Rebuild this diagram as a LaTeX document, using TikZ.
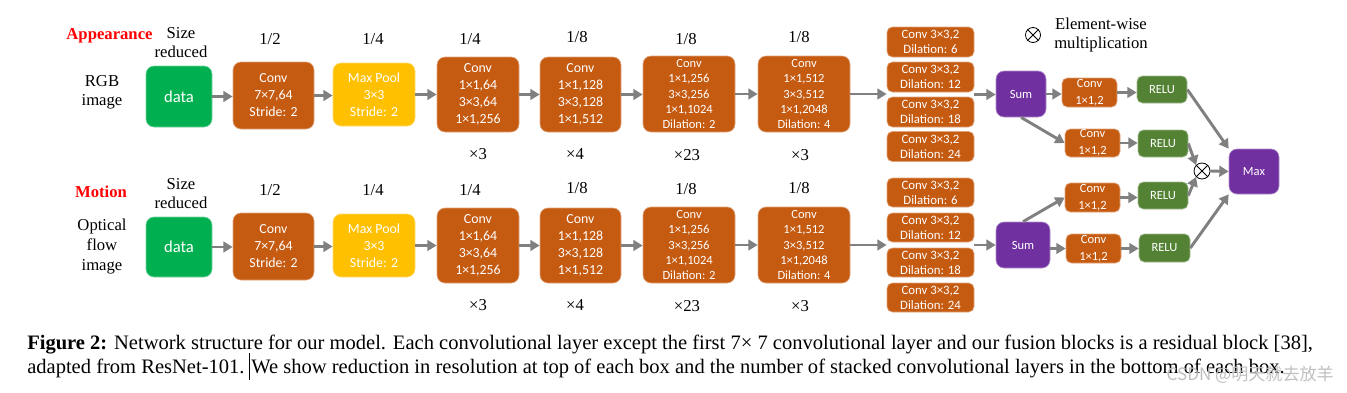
\documentclass[tikz,border=0pt]{standalone}
\usepackage{fontspec}
\setmainfont{Liberation Serif}
\newfontfamily\boxfont{Carlito}
\newfontfamily\cjkfont{Noto Sans CJK SC}
\usetikzlibrary{arrows.meta,calc}
\definecolor{convc}{HTML}{C55A11}
\definecolor{poolc}{HTML}{FFC000}
\definecolor{datac}{HTML}{00B050}
\definecolor{sumc}{HTML}{7030A0}
\definecolor{reluc}{HTML}{548235}
\definecolor{arrc}{HTML}{808080}
\definecolor{redlab}{HTML}{FF0000}
\begin{document}
\begin{tikzpicture}[x=0.75pt,y=-0.75pt,
  b/.style n args={3}{fill=#1, draw=#1!55!white, line width=0.5pt,
     minimum width=#2*0.75pt, minimum height=#3*0.75pt, inner sep=0pt,
     align=center, text=white, rounded corners=6pt},
  sm/.style={rounded corners=4pt},
  fbig/.style={font=\boxfont\fontsize{10.4}{12.75}\selectfont},
  fmid/.style={font=\boxfont\fontsize{9.4}{11.6}\selectfont},
  fdil/.style={font=\boxfont\fontsize{9.6}{11.25}\selectfont},
  fsm/.style={font=\boxfont\fontsize{9.4}{12.5}\selectfont},
  fdata/.style={font=\boxfont\fontsize{12.5}{14}\selectfont},
  lab/.style={font=\fontsize{12.5}{14.3}\selectfont, align=center, inner sep=0pt},
  redl/.style={font=\bfseries\fontsize{12.5}{14.3}\selectfont, text=redlab, inner sep=0pt},
  arr/.style={draw=arrc, line width=2.2pt, -{Triangle[length=7pt,width=8pt]}},
  otim/.style={circle, draw=black, line width=0.6pt, minimum size=#1*0.75pt, inner sep=0pt},
  capt/.style={anchor=base west, inner sep=0pt, font=\fontsize{15.4}{18}\selectfont}
]
\useasboundingbox (0,0) rectangle (1347,393);

% ---------- Row A ----------
\node[redl] (appA) at (109.5,36) {Appearance};
\node[lab] (szA) at (181,42.5) {Size\\reduced};
\node[lab] (inpA) at (102,92) {RGB\\image};

\node[b={datac}{66}{61}, fdata] (dataA) at (179,96.5) {data};
\node[b={convc}{81}{67}, fbig] (conv0A) at (273.5,95.5) {Conv\\7×7,64\\Stride: 2};
\node[b={poolc}{82}{63}, fbig] (poolA) at (374,94.5) {Max Pool\\3×3\\Stride: 2};
\node[b={convc}{82}{75}, fbig] (c1A) at (478,94.5) {Conv\\1×1,64\\3×3,64\\1×1,256};
\node[b={convc}{81}{75}, fbig] (c2A) at (580.5,94.5) {Conv\\1×1,128\\3×3,128\\1×1,512};
\node[b={convc}{92}{76}, fmid] (c3A) at (689,94) {Conv\\1×1,256\\3×3,256\\1×1,1024\\Dilation: 2};
\node[b={convc}{92}{76}, fmid] (c4A) at (804,94) {Conv\\1×1,512\\3×3,512\\1×1,2048\\Dilation: 4};

\node[lab] (rA0) at (270,39) {1/2};
\node[lab] (rA1) at (373,39) {1/4};
\node[lab] (rA2) at (470,39) {1/4};
\node[lab] (rA3) at (577,37) {1/8};
\node[lab] (rA4) at (686,39) {1/8};
\node[lab] (rA5) at (799,37) {1/8};
\node[lab] (nA1) at (478,154) {×3};
\node[lab] (nA2) at (575,154) {×4};
\node[lab] (nA3) at (687,155) {×23};
\node[lab] (nA4) at (800,155) {×3};

\node[b={convc}{87}{30}, sm, fdil] (dA1) at (930.5,42) {Conv 3×3,2\\Dilation: 6};
\node[b={convc}{87}{30}, sm, fdil] (dA2) at (930.5,77) {Conv 3×3,2\\Dilation: 12};
\node[b={convc}{87}{30}, sm, fdil] (dA3) at (930.5,112) {Conv 3×3,2\\Dilation: 18};
\node[b={convc}{87}{30}, sm, fdil] (dA4) at (930.5,146.5) {Conv 3×3,2\\Dilation: 24};

\node[b={sumc}{50}{46}, fsm] (sumA) at (1021,94) {Sum};
\node[b={convc}{55}{29}, sm, fsm] (cvA1) at (1089.5,92.5) {Conv\\1×1,2};
\node[b={reluc}{50}{27}, sm, fsm] (reluA1) at (1162,89.5) {RELU};
\node[b={convc}{55}{28}, sm, fsm] (cvA2) at (1092.5,143) {Conv\\1×1,2};
\node[b={reluc}{50}{27}, sm, fsm] (reluA2) at (1163,143.5) {RELU};

% ---------- Row B ----------
\node[redl] (appB) at (101,192) {Motion};
\node[lab] (szB) at (181,194) {Size\\reduced};
\node[lab, font=\fontsize{12.5}{15}\selectfont] (inpB) at (102,247) {Optical\\flow\\image};

\node[b={datac}{66}{60}, fdata] (dataB) at (179,247) {data};
\node[b={convc}{81}{67}, fbig] (conv0B) at (273.5,246.5) {Conv\\7×7,64\\Stride: 2};
\node[b={poolc}{82}{63}, fbig] (poolB) at (374,245.5) {Max Pool\\3×3\\Stride: 2};
\node[b={convc}{82}{75}, fbig] (c1B) at (478,245.5) {Conv\\1×1,64\\3×3,64\\1×1,256};
\node[b={convc}{81}{75}, fbig] (c2B) at (580.5,245.5) {Conv\\1×1,128\\3×3,128\\1×1,512};
\node[b={convc}{92}{76}, fmid] (c3B) at (689,245) {Conv\\1×1,256\\3×3,256\\1×1,1024\\Dilation: 2};
\node[b={convc}{92}{76}, fmid] (c4B) at (804,245) {Conv\\1×1,512\\3×3,512\\1×1,2048\\Dilation: 4};

\node[lab] (rB0) at (270,190) {1/2};
\node[lab] (rB1) at (373,190) {1/4};
\node[lab] (rB2) at (470,190) {1/4};
\node[lab] (rB3) at (577,188) {1/8};
\node[lab] (rB4) at (686,189) {1/8};
\node[lab] (rB5) at (799,188) {1/8};
\node[lab] (nB1) at (478,305) {×3};
\node[lab] (nB2) at (575,305) {×4};
\node[lab] (nB3) at (687,306) {×23};
\node[lab] (nB4) at (800,306) {×3};

\node[b={convc}{87}{29}, sm, fdil] (dB1) at (930.5,192.5) {Conv 3×3,2\\Dilation: 6};
\node[b={convc}{87}{29}, sm, fdil] (dB2) at (930.5,227.5) {Conv 3×3,2\\Dilation: 12};
\node[b={convc}{87}{29}, sm, fdil] (dB3) at (930.5,262.5) {Conv 3×3,2\\Dilation: 18};
\node[b={convc}{87}{29}, sm, fdil] (dB4) at (930.5,297.5) {Conv 3×3,2\\Dilation: 24};

\node[b={sumc}{54}{46}, fsm] (sumB) at (1023,245) {Sum};
\node[b={convc}{55}{29}, sm, fsm] (cvB1) at (1092.5,197.5) {Conv\\1×1,2};
\node[b={reluc}{50}{27}, sm, fsm] (reluB1) at (1163,195.5) {RELU};
\node[b={convc}{55}{29}, sm, fsm] (cvB2) at (1093.5,248.5) {Conv\\1×1,2};
\node[b={reluc}{51}{28}, sm, fsm] (reluB2) at (1164.5,248) {RELU};

% ---------- Fusion ----------
\node[otim=16] (ot) at (1202,171) {};
\draw[line width=0.6pt] (ot.45) -- (ot.225) (ot.135) -- (ot.315);
\node[b={sumc}{50}{45}, fsm] (maxn) at (1254,171.5) {Max};

% legend
\node[otim=15] (otl) at (1033,35) {};
\draw[line width=0.6pt] (otl.45) -- (otl.225) (otl.135) -- (otl.315);
\node[lab] (legt) at (1101,35) {Element-wise\\multiplication};

% ---------- Arrows ----------
\foreach \r in {A,B}{
  \draw[arr] (data\r.east) -- (data\r.east -| conv0\r.west);
  \draw[arr] (conv0\r.east) -- (conv0\r.east -| pool\r.west);
  \draw[arr] (pool\r.east) -- (pool\r.east -| c1\r.west);
  \draw[arr] (c1\r.east) -- (c1\r.east -| c2\r.west);
  \draw[arr] (c2\r.east) -- (c2\r.east -| c3\r.west);
  \draw[arr] (c3\r.east) -- (c3\r.east -| c4\r.west);
  \coordinate (in\r) at ($(d\r2.south west)!.5!(d\r3.north west)$);
  \coordinate (out\r) at ($(d\r2.south east)!.5!(d\r3.north east)$);
  \draw[arr] (c4\r.east) -- (c4\r.east -| in\r);
  \draw[arr] (out\r) -- (out\r -| sum\r.west);
}
\draw[arr] (sumA.east) -- (sumA.east -| cvA1.west);
\draw[arr] (sumA.south) -- (cvA2.west);
\draw[arr] (cvA1.east) -- (cvA1.east -| reluA1.west);
\draw[arr] (cvA2.east) -- (cvA2.east -| reluA2.west);
\draw[arr] (sumB.north) -- (cvB1.west);
\draw[arr] (sumB.east |- cvB2.west) -- (cvB2.west);
\draw[arr] (cvB1.east) -- (cvB1.east -| reluB1.west);
\draw[arr] (cvB2.east) -- (cvB2.east -| reluB2.west);

\draw[arr] (reluA1.east) -- (maxn.north west);
\draw[arr] (reluA2.east) -- (ot.north west);
\draw[arr] (reluB1.east) -- (ot.south west);
\draw[arr] (ot.east) -- (maxn.west);
\draw[arr] (reluB2.east) -- (maxn.south west);

% ---------- Caption ----------
\node[capt] (cap1) at (27,349)
  {\textbf{Figure 2:} Network structure for our model. Each convolutional layer except the first 7× 7 convolutional layer and our fusion blocks is a residual block [38],};
\node[capt] (cap2) at (27,373)
  {adapted from ResNet-101. \makebox[0pt][l]{\kern-0.1em\rule[-0.35em]{0.5pt}{1.3em}}We show reduction in resolution at top of each box and the number of stacked convolutional layers in the bottom of each box.};
\node[anchor=base east, inner sep=0pt, text=black!25, font=\cjkfont\fontsize{12.8}{14}\selectfont] (wm) at (1334,380) {CSDN @明天就去放羊};
\end{tikzpicture}
\end{document}
